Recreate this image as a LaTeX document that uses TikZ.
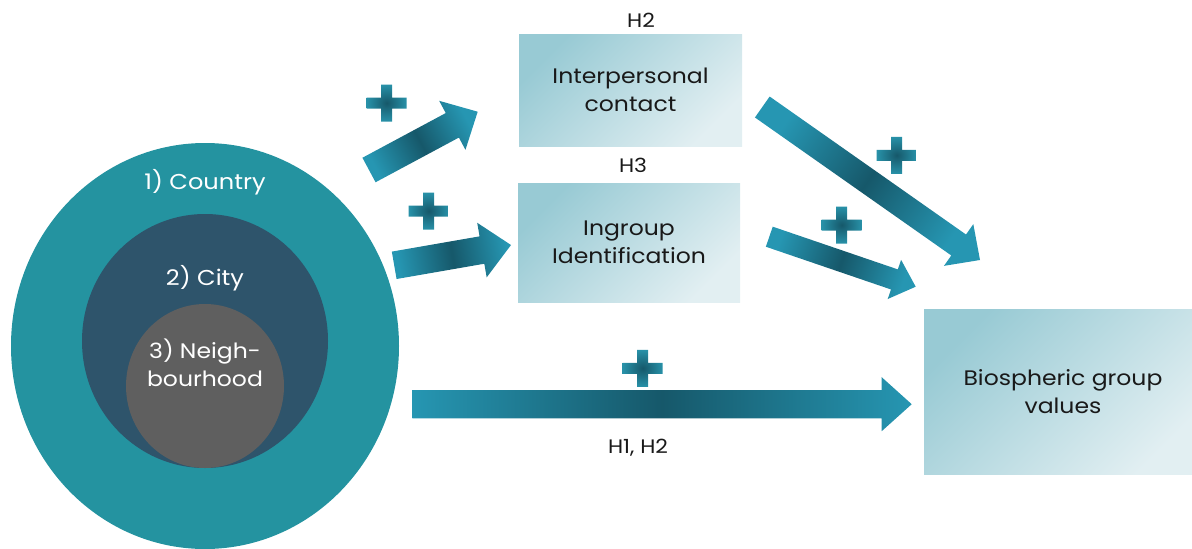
\documentclass[tikz,border=0pt]{standalone}
\usepackage{fontspec}
\setmainfont{Poppins}[FakeStretch=1.12]
\usetikzlibrary{calc,shapes.geometric}

\definecolor{countryC}{RGB}{36,147,160}
\definecolor{cityC}{RGB}{46,84,107}
\definecolor{hoodC}{RGB}{95,95,95}
\definecolor{arrowEnd}{RGB}{38,150,178}
\definecolor{arrowMid}{RGB}{22,88,106}
\definecolor{plusEdge}{RGB}{40,145,168}
\definecolor{plusMid}{RGB}{22,88,106}
\definecolor{boxDark}{RGB}{152,202,212}
\definecolor{boxLight}{RGB}{226,239,242}
\definecolor{inkC}{RGB}{25,25,25}

\tikzset{
  region/.style={ellipse, inner sep=0pt, draw=none},
  ringlabel/.style={text=white, font=\fontsize{21.5}{24}\selectfont, align=center},
  varbox/.style={rectangle, inner sep=0pt, align=center, text=inkC,
    font=\fontsize{21}{28}\selectfont,
    left color=boxDark, right color=boxLight, shading angle=45},
  hyplabel/.style={text=inkC, font=\fontsize{19.5}{24}\selectfont},
  arrowfill/.style={left color=arrowEnd, right color=arrowEnd, middle color=arrowMid},
  plusfill/.style={inner color=plusMid, outer color=plusEdge}
}

% block arrow: #1 tail, #2 tip, #3 half shaft, #4 half head, #5 head length, #6 shading angle
\newcommand\blockarrow[6]{%
  \coordinate (#1-base) at ($(#2)!#5!(#1)$);
  \path[arrowfill, shading angle=#6]
    ($(#1)!#3!90:(#2)$) -- ($(#1-base)!#3!90:(#2)$) -- ($(#1-base)!#4!90:(#2)$)
    -- (#2)
    -- ($(#1-base)!#4!-90:(#2)$) -- ($(#1-base)!#3!-90:(#2)$) -- ($(#1)!#3!-90:(#2)$)
    -- cycle;
}

% plus sign centred at #1
\newcommand\plussign[1]{%
  \path[plusfill, shift={(#1)}]
    (-5.5,-18.5) -- (5.5,-18.5) -- (5.5,-5.5) -- (20,-5.5) -- (20,5.5) -- (5.5,5.5)
    -- (5.5,18.5) -- (-5.5,18.5) -- (-5.5,5.5) -- (-20,5.5) -- (-20,-5.5) -- (-5.5,-5.5) -- cycle;
}

\begin{document}
\begin{tikzpicture}[x=1pt, y=-1pt]
  \useasboundingbox (0,0) rectangle (1192,549);

  % nested geographic levels
  \node[region, fill=countryC, minimum width=388pt, minimum height=406pt] (country) at (205,346) {};
  \node[region, fill=cityC, minimum width=246pt, minimum height=254pt] (city) at (205,341) {};
  \node[region, fill=hoodC, minimum width=158pt, minimum height=164pt] (hood) at (205,386) {};
  \node[ringlabel] (countrylbl) at (205,182) {1) Country};
  \node[ringlabel] (citylbl) at (205,278) {2) City};
  \node[ringlabel, font=\fontsize{21}{28}\selectfont] (hoodlbl) at (205,363) {3) Neigh-\\bourhood};

  % variables
  \node[varbox, minimum width=223pt, minimum height=112pt] (contact) at (630.5,90) {Interpersonal\\contact};
  \node[varbox, minimum width=222pt, minimum height=119pt] (ingroup) at (629,242.5) {Ingroup\\Identification};
  \node[varbox, minimum width=278pt, minimum height=165pt] (values) at (1063,391.5) {Biospheric group\\values};

  \node[hyplabel] (h2) at (641,20) {H2};
  \node[hyplabel] (h3) at (633,165) {H3};
  \node[hyplabel] (h12) at (638,448) {H1, H2};

  % arrow end points
  \coordinate (aT) at (369,170);     \coordinate (aH) at (477.7,111.7);
  \coordinate (bT) at (394.2,265.3); \coordinate (bH) at (511,245);
  \coordinate (cT) at (762.3,107);   \coordinate (cH) at (980,260);
  \coordinate (dT) at (769.3,236.7); \coordinate (dH) at (915.7,286.7);
  \coordinate (eT) at (412.3,404.2); \coordinate (eH) at (911.7,404.2);

  \blockarrow{aT}{aH}{13.9pt}{27.8pt}{28.8pt}{118.2}
  \blockarrow{bT}{bH}{13.9pt}{27.7pt}{29.5pt}{99.9}
  \blockarrow{cT}{cH}{12.8pt}{25.5pt}{26.1pt}{54.9}
  \blockarrow{dT}{dH}{10.6pt}{20.7pt}{22.5pt}{71.1}
  \blockarrow{eT}{eH}{14.1pt}{27pt}{30pt}{90}

  % positive effects
  \plussign{386.7,103}
  \plussign{428.7,211}
  \plussign{896.7,155.3}
  \plussign{841.7,225}
  \plussign{642.7,368.3}
\end{tikzpicture}
\end{document}
